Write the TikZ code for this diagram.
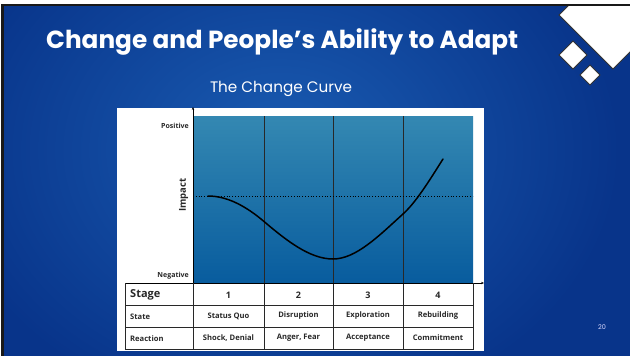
\documentclass[tikz,border=0pt]{standalone}
\usepackage{fontspec}
\setmainfont{Poppins}
\newfontfamily\chartfont{Open Sans}
\usetikzlibrary{arrows.meta}

\definecolor{slidedark}{RGB}{8,52,138}
\definecolor{slidelight}{RGB}{26,92,178}
\definecolor{charttop}{RGB}{52,136,178}
\definecolor{chartbot}{RGB}{8,92,158}
\definecolor{gridline}{RGB}{40,40,40}
\definecolor{labelgray}{RGB}{40,40,40}

\tikzset{
  tabletext/.style={font=\chartfont\bfseries\fontsize{7.6}{8}\selectfont, text=labelgray, inner sep=0pt},
  rowhead/.style={tabletext, anchor=west},
  stagenum/.style={font=\chartfont\bfseries\fontsize{9}{10}\selectfont, text=labelgray, inner sep=0pt},
  axislabel/.style={font=\chartfont\bfseries\fontsize{7}{8}\selectfont, text=labelgray, inner sep=0pt, anchor=east},
  tableline/.style={draw=gridline, line width=0.6pt},
  logo/.style={fill=white, draw=black!80, line width=0.8pt},
}

\begin{document}
\begin{tikzpicture}[x=1pt,y=-1pt]
  \useasboundingbox (0,0) rectangle (630,356);

  % slide background
  \fill[slidedark] (0,0) rectangle (630,356);
  \shade[inner color=slidelight, outer color=slidedark] (-60,-120) rectangle (620,420);
  \fill[white] (0,0) rectangle (630,3.5);
  \fill[black!90] (0,3.5) rectangle (630,6);
  \fill[white] (0,0) rectangle (1,356);
  \fill[black!90] (1,3.5) rectangle (4,356);

  % corner logo
  \begin{scope}
    \clip (4,6) rectangle (630,356);
    \path[logo] (559,15) -- (613,-39) -- (667,15) -- (613,69) -- cycle;
  \end{scope}
  \fill[black!90] (520,3.5) rectangle (630,6);
  \path[logo] (559,55) -- (573,41) -- (587,55) -- (573,69) -- cycle;
  \path[logo] (580,75) -- (590,65) -- (600,75) -- (590,85) -- cycle;

  % titles
  \node[text=white, inner sep=0pt, anchor=base west] (title) at (46,48.5)
    {\resizebox{472pt}{!}{\bfseries Change and People’s Ability to Adapt}};
  \node[text=white, inner sep=0pt, anchor=base] (subtitle) at (281,92.5)
    {\resizebox{142pt}{!}{The Change Curve}};
  \node[text=white!85!blue, inner sep=0pt, font=\fontsize{6.5}{7}\selectfont] (pagenum) at (602,327) {20};

  % chart panel
  \fill[white] (117,108) rectangle (484,351);
  \shade[top color=charttop, bottom color=chartbot] (193,116) rectangle (473,283);

  % stage dividers
  \foreach \x in {264,333,403} \draw[gridline, line width=0.6pt] (\x,116) -- (\x,349);

  % reference level
  \draw[black, line width=0.8pt, dotted] (193,196.5) -- (473,196.5);

  % change curve
  \draw[black, line width=1.5pt, line cap=round]
    (208,196) .. controls (226.7,196) and (245.3,205.6) .. (264,221.5)
              .. controls (287,241) and (310,259) .. (333,259)
              .. controls (356.3,259) and (379.7,235) .. (403,214)
              .. controls (416.3,202) and (429.7,180) .. (443,159);

  % axes
  \coordinate (origin) at (193,283);
  \coordinate (ytip) at (193,107);
  \coordinate (xtip) at (484,283);
  \draw[black, line width=0.6pt, -{Stealth[length=3pt,width=2.4pt]}] (origin) -- (ytip);
  \draw[black, line width=0.6pt, -{Stealth[length=3pt,width=2.4pt]}] (125,283) -- (xtip);

  \node[axislabel] (pos) at (189,125.5) {Positive};
  \node[axislabel] (neg) at (189,276) {Negative};
  \node[font=\chartfont\bfseries\fontsize{9.5}{10}\selectfont, text=labelgray, rotate=90, inner sep=0pt] (impact) at (183.5,195) {Impact};

  % table grid
  \draw[tableline] (125,283) -- (125,349) -- (473,349) -- (473,283);
  \draw[tableline] (193,283) -- (193,349);
  \draw[tableline] (125,305) -- (473,305);
  \draw[tableline] (125,327) -- (473,327);

  % table text
  \node[font=\chartfont\bfseries\fontsize{11}{12}\selectfont, text=labelgray, inner sep=0pt, anchor=west] (stage) at (130,295) {Stage};
  \node[rowhead] (state) at (130,316.5) {State};
  \node[rowhead] (reaction) at (130,338.5) {Reaction};

  \node[stagenum] (s1) at (228.5,295) {1};
  \node[stagenum] (s2) at (298.5,295) {2};
  \node[stagenum] (s3) at (368,295) {3};
  \node[stagenum] (s4) at (438,295) {4};

  \node[tabletext] (st1) at (228.5,316) {Status Quo};
  \node[tabletext] (st2) at (298.5,316) {Disruption};
  \node[tabletext] (st3) at (368,316) {Exploration};
  \node[tabletext] (st4) at (438,316) {Rebuilding};

  \node[tabletext] (r1) at (228.5,338) {Shock, Denial};
  \node[tabletext] (r2) at (298.5,338) {Anger, Fear};
  \node[tabletext] (r3) at (368,338) {Acceptance};
  \node[tabletext] (r4) at (438,338) {Commitment};
\end{tikzpicture}
\end{document}
